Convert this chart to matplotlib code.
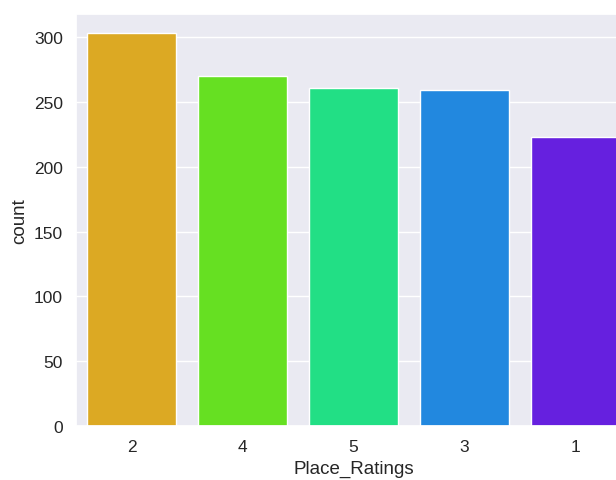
import matplotlib
matplotlib.use("Agg")
import matplotlib.pyplot as plt
import seaborn as sns

# counts per rating, in the order shown (sorted by count)
ratings = ["2", "4", "5", "3", "1"]
counts = [303, 270, 261, 259, 223]
colors = ["#dca923", "#66e022", "#22df85", "#2288df", "#6620df"]

sns.set_theme(style="darkgrid")
plt.rcParams["font.family"] = ["Liberation Sans", "DejaVu Sans"]

fig = plt.figure(figsize=(6.16, 4.81), dpi=100)
# the original image is cropped on the right, so the axes run past the edge
ax = fig.add_axes([0.1234, 0.1123, 0.901, 0.857])

sns.barplot(x=ratings, y=counts, hue=ratings, palette=colors,
            legend=False, ax=ax, saturation=1, width=0.8)
ax.set_xlim(-0.5, 4.5)
ax.set_ylim(0, max(counts) * 1.05)
ax.set_xlabel("Place_Ratings", fontsize=13.5)
ax.set_ylabel("count", fontsize=13.5)
ax.tick_params(labelsize=12.5)

fig.savefig("out.png", dpi=100)
